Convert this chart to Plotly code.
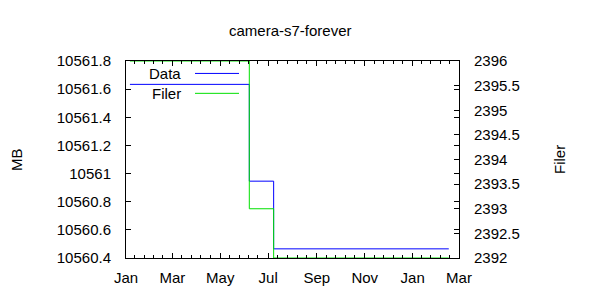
import plotly.graph_objects as go
from datetime import date, timedelta

# ---- data ----
dates = ["2017-01-06", "2017-06-07", "2017-07-08", "2018-02-16"]
mb_values = [10561.634, 10560.946, 10560.465, 10560.465]
filer_values = [2396, 2393, 2392, 2392]
series_names = ["Data", "Filer"]
x_tick_labels = ["Jan", "Mar", "May", "Jul", "Sep", "Nov", "Jan", "Mar"]
x_tick_dates = ["2017-01-01", "2017-03-01", "2017-05-01", "2017-07-01",
                "2017-09-01", "2017-11-01", "2018-01-01", "2018-03-01"]
y_ticks = [10560.4, 10560.6, 10560.8, 10561, 10561.2, 10561.4, 10561.6, 10561.8]
y2_ticks = [2392, 2392.5, 2393, 2393.5, 2394, 2394.5, 2395, 2395.5, 2396]

BLUE = "#0000ff"
GREEN = "#00e000"
FONT = "Liberation Sans"
FS = 15

# plot area in pixels
W, H = 600, 300
L, R, T, B = 126, 459, 60.5, 258.5

def px(x):
    return (x - L) / (R - L)

def py(y):
    return (B - y) / (B - T)

# minor ticks: 4 between each pair of major ticks
minor_vals = []
for a, b in zip(x_tick_dates[:-1], x_tick_dates[1:]):
    da, db = date.fromisoformat(a), date.fromisoformat(b)
    span = (db - da).days
    for k in range(1, 5):
        minor_vals.append((da + timedelta(days=span * k / 5)).isoformat())

fig = go.Figure()
fig.add_trace(go.Scatter(x=dates, y=mb_values, name=series_names[0], mode="lines",
                         line=dict(color=BLUE, width=1, shape="hv"), yaxis="y"))
fig.add_trace(go.Scatter(x=dates, y=filer_values, name=series_names[1], mode="lines",
                         line=dict(color=GREEN, width=1, shape="hv"), yaxis="y2"))

axis_common = dict(showline=True, linecolor="black", linewidth=1, showgrid=False,
                   zeroline=False, ticks="inside", tickcolor="black",
                   tickfont=dict(family=FONT, size=FS, color="black"))

fig.update_layout(
    width=W, height=H,
    margin=dict(l=L, r=W - R, t=T, b=H - B, pad=0),
    paper_bgcolor="white", plot_bgcolor="white",
    showlegend=False,
    font=dict(family=FONT, size=FS, color="black"),
    xaxis=dict(**axis_common, type="date", mirror="ticks",
               range=[x_tick_dates[0], x_tick_dates[-1]],
               tickmode="array", tickvals=x_tick_dates, ticktext=x_tick_labels,
               ticklen=5, ticklabelstandoff=6,
               minor=dict(tickmode="array", tickvals=minor_vals, ticks="inside",
                          ticklen=3, tickcolor="black")),
    yaxis=dict(**axis_common, mirror="ticks", range=[y_ticks[0], y_ticks[-1]],
               tickmode="array", tickvals=y_ticks,
               ticktext=[f"{v:g}" for v in y_ticks], ticklen=5,
               ticklabelstandoff=11),
    yaxis2=dict(**axis_common, overlaying="y", side="right",
                range=[y2_ticks[0], y2_ticks[-1]],
                tickmode="array", tickvals=y2_ticks,
                ticktext=[f"{v:g}" for v in y2_ticks], ticklen=5,
                ticklabelstandoff=11),
)

fig.add_annotation(text="camera-s7-forever", xref="paper", yref="paper",
                   x=px(290.5), y=py(30), showarrow=False,
                   font=dict(family=FONT, size=FS), xanchor="center", yanchor="middle")
fig.add_annotation(text="MB", xref="paper", yref="paper", x=px(17), y=py(160),
                   showarrow=False, textangle=-90, xanchor="center", yanchor="middle",
                   font=dict(family=FONT, size=FS))
fig.add_annotation(text="Filer", xref="paper", yref="paper", x=px(560), y=py(160),
                   showarrow=False, textangle=-90, xanchor="center", yanchor="middle",
                   font=dict(family=FONT, size=FS))

# key (gnuplot style: text then sample line)
for name, color, yk in [(series_names[0], BLUE, 73), (series_names[1], GREEN, 93)]:
    fig.add_annotation(text=name, xref="paper", yref="paper", x=px(183), y=py(yk),
                       showarrow=False, xanchor="right", yanchor="middle",
                       font=dict(family=FONT, size=FS))
    fig.add_shape(type="line", xref="paper", yref="paper",
                  x0=px(195), x1=px(239), y0=py(yk), y1=py(yk),
                  line=dict(color=color, width=1))

fig.write_html("out.html")
